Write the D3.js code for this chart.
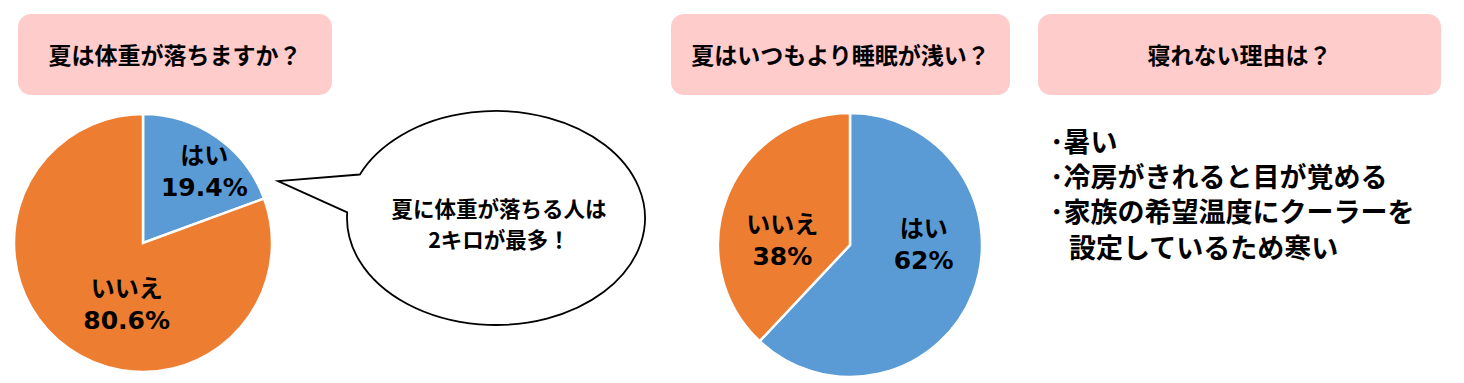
<!DOCTYPE html>
<html>
<head>
<meta charset="utf-8">
<script src="https://cdn.jsdelivr.net/npm/d3@7"></script>
<style>
  body { margin: 0; background: #fff; }
  svg text { font-family: "Noto Sans CJK JP", "Noto Sans", sans-serif; font-weight: 700; fill: #000; }
  svg text.pct { font-family: "DejaVu Sans", "Noto Sans", sans-serif; }
</style>
</head>
<body>
<div id="chart"></div>
<script>
// survey data
const titles = ["夏は体重が落ちますか？", "夏はいつもより睡眠が浅い？", "寝れない理由は？"];
const answers = ["はい", "いいえ"];
const weightValues = [19.4, 80.6];
const weightLabels = ["19.4%", "80.6%"];
const sleepValues = [62, 38];
const sleepLabels = ["62%", "38%"];
const bubbleLines = ["夏に体重が落ちる人は", "2キロが最多！"];
const reasonLines = ["暑い", "冷房がきれると目が覚める", "家族の希望温度にクーラーを", "設定しているため寒い"];
const reasonBullet = [true, true, true, false];

const W = 1464, H = 383;
const colors = d3.scaleOrdinal().domain(answers).range(["#5B9BD5", "#ED7D31"]);

const svg = d3.select("#chart").append("svg")
  .attr("width", W).attr("height", H);

// header boxes
const boxes = [
  {x: 18, w: 314}, {x: 671, w: 339}, {x: 1038, w: 403}
];
boxes.forEach((b, i) => {
  svg.append("rect")
    .attr("x", b.x).attr("y", 14)
    .attr("width", b.w).attr("height", 81)
    .attr("rx", 13)
    .attr("fill", "#FFCCCC");
  svg.append("text")
    .attr("x", b.x + b.w / 2).attr("y", 54)
    .attr("text-anchor", "middle")
    .attr("dominant-baseline", "central")
    .attr("font-size", "23px")
    .text(titles[i]);
});

// pies
function drawPie(values, pctLabels, cx, cy, r, nudges) {
  const pie = d3.pie().sort(null).value(d => d.v);
  const arcs = pie(values.map((v, i) => ({v, k: answers[i], p: pctLabels[i]})));
  const arc = d3.arc().innerRadius(0).outerRadius(r);
  const labelArc = d3.arc().innerRadius(r * 0.6).outerRadius(r * 0.6);
  const g = svg.append("g").attr("transform", `translate(${cx},${cy})`);
  g.selectAll("path").data(arcs).join("path")
    .attr("d", arc)
    .attr("fill", d => colors(d.data.k))
    .attr("stroke", "#fff")
    .attr("stroke-width", 2.5);
  // excel "best fit" style label placement: centroid plus a nudge
  const lab = g.selectAll("g.lab").data(arcs).join("g")
    .attr("class", "lab")
    .attr("transform", (d, i) => {
      const c = labelArc.centroid(d);
      return `translate(${c[0] + nudges[i][0]},${c[1] + nudges[i][1]})`;
    });
  lab.append("text").attr("text-anchor", "middle").attr("y", -5)
    .attr("font-size", "24px").text(d => d.data.k);
  lab.append("text").attr("class", "pct").attr("text-anchor", "middle").attr("y", 27)
    .attr("font-size", "25px").text(d => d.data.p);
}

drawPie(weightValues, weightLabels, 143, 243, 129, [[17, -11], [28, -4]]);
drawPie(sleepValues, sleepLabels, 850, 245, 132, [[0, -32], [6, 22]]);

// speech bubble
const ecx = 496, ecy = 218, erx = 149, ery = 107;
const pt = a => [ecx + erx * Math.cos(a * Math.PI / 180), ecy + ery * Math.sin(a * Math.PI / 180)];
const A = pt(204), B = pt(183), tip = [278, 181];
svg.append("path")
  .attr("d", `M${A}L${tip}L${B}A${erx},${ery} 0 1 0 ${A}Z`)
  .attr("fill", "#fff")
  .attr("stroke", "#000")
  .attr("stroke-width", 1.8);
svg.append("g").selectAll("text").data(bubbleLines).join("text")
  .attr("x", 499)
  .attr("y", (d, i) => 216.5 + i * 31.2)
  .attr("text-anchor", "middle")
  .attr("font-size", "21.5px")
  .text(d => d);

// reasons list, half-width dot as bullet
svg.append("g").selectAll("text").data(reasonLines).join("text")
  .attr("x", (d, i) => reasonBullet[i] ? 1050 : 1069)
  .attr("y", (d, i) => 152 + i * 35.2)
  .attr("font-size", "27px")
  .text((d, i) => (reasonBullet[i] ? "･" : "") + d);
</script>
</body>
</html>
